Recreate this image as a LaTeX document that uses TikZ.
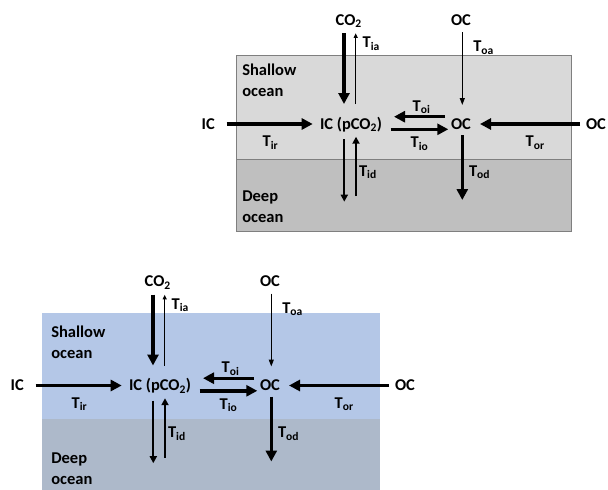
\documentclass[tikz,border=0pt]{standalone}
\usepackage{fontspec}
\setmainfont{Carlito}
\usetikzlibrary{arrows.meta,calc}
\definecolor{shallowgrey}{HTML}{D9D9D9}
\definecolor{deepgrey}{HTML}{BFBFBF}
\definecolor{boxedge}{HTML}{7F7F7F}
\definecolor{shallowblue}{HTML}{B4C7E7}
\definecolor{deepblue}{HTML}{ADB9CA}
\newcommand\oceanflows{%
  % main labels
  \node[txt] (co2) at (335.7,25) {CO\textsubscript{2}};
  \node[txt] (oct) at (451,25) {OC};
  \node[txt] (icl) at (201.7,129.3) {IC};
  \node[txt] (icp) at (320,129.3) {IC (pCO\textsubscript{2})};
  \node[txt] (ocm) at (451,129.3) {OC};
  \node[txt] (ocr) at (586,129.3) {OC};
  \node[txt,align=left] (shal) at (242.3,96.7) {Shallow\\ocean};
  \node[txt,align=left] (deep) at (242.3,222.7) {Deep\\ocean};
  % flux labels
  \node[txt] (tia) at (362.7,47.7) {T\textsubscript{ia}};
  \node[txt] (toa) at (473.3,51.7) {T\textsubscript{oa}};
  \node[txt] (tir) at (262.7,146.7) {T\textsubscript{ir}};
  \node[txt] (toi) at (412.7,111) {T\textsubscript{oi}};
  \node[txt] (tio) at (410.7,147.7) {T\textsubscript{io}};
  \node[txt] (tor) at (525.7,146.7) {T\textsubscript{or}};
  \node[txt] (tid) at (359,176) {T\textsubscript{id}};
  \node[txt] (tod) at (469,176) {T\textsubscript{od}};
  % free ends in the deep ocean
  \coordinate (icd) at (344.3,201.7);
  \coordinate (ocd) at (462.3,200);
  % arrows
  \draw[big] ($(icl.base west)+(25,-5.3)$) -- ($(icp.base west)+(-7.3,-5.3)$);
  \draw[big] ($(ocm.base west)+(-6,-12.6)$) -- ($(icp.base west)+(74,-12.6)$);
  \draw[big] ($(icp.base west)+(70.7,0)$) -- ($(ocm.base west)+(-2.7,0)$);
  \draw[big] ($(ocr.base west)+(-6,-5.3)$) -- ($(ocm.base west)+(29,-5.3)$);
  \draw[big] ($(co2.base west)+(8.3,8)$) -- ($(icp.base west)+(24,-25.3)$);
  \draw[thinarrow] ($(icp.base west)+(35.7,-25.3)$) -- ($(co2.base west)+(20,8.3)$);
  \draw[ocarrow] ($(oct.base west)+(11.3,7)$) -- ($(ocm.base west)+(11.3,-24.3)$);
  \draw[mid] ($(icp.base west)+(24.3,9.7)$) -- (icd);
  \draw[mid] ($(icd)+(11.7,-5.7)$) -- ($(icp.base west)+(36,7.4)$);
  \draw[big] ($(ocm.base west)+(11.3,5.7)$) -- (ocd);
}
\begin{document}
\begin{tikzpicture}[x=1pt,y=-1pt,
  font=\fontsize{16.5}{21}\selectfont\bfseries,
  txt/.style={anchor=base west,inner sep=0pt,outer sep=0pt},
  big/.style={line width=3.4pt,-{Triangle[length=11pt,width=11pt]}},
  mid/.style={line width=2pt,-{Triangle[length=7pt,width=7pt]}},
  thinarrow/.style={line width=0.9pt,-{Triangle[length=4.5pt,width=4pt]}},
  ocarrow/.style={line width=1.2pt,-{Triangle[length=7pt,width=5pt]}}]
\useasboundingbox (0,0) rectangle (608,490);
% top (grey) version
\fill[shallowgrey] (236.7,55) rectangle (571.7,159.3);
\fill[deepgrey] (236.7,159.3) rectangle (571.7,231.7);
\draw[boxedge,line width=0.8pt] (236.7,55) rectangle (571.7,231.7);
\draw[boxedge,line width=0.8pt] (236.7,159.3) -- (571.7,159.3);
\begin{scope}[name prefix=t-]
  \oceanflows
\end{scope}
% bottom (blue) version
\fill[shallowblue] (42.3,313.3) rectangle (380,419);
\fill[deepblue] (42.3,419) rectangle (380,490);
\begin{scope}[shift={(-191,261.5)},name prefix=b-]
  \oceanflows
\end{scope}
\end{tikzpicture}
\end{document}
